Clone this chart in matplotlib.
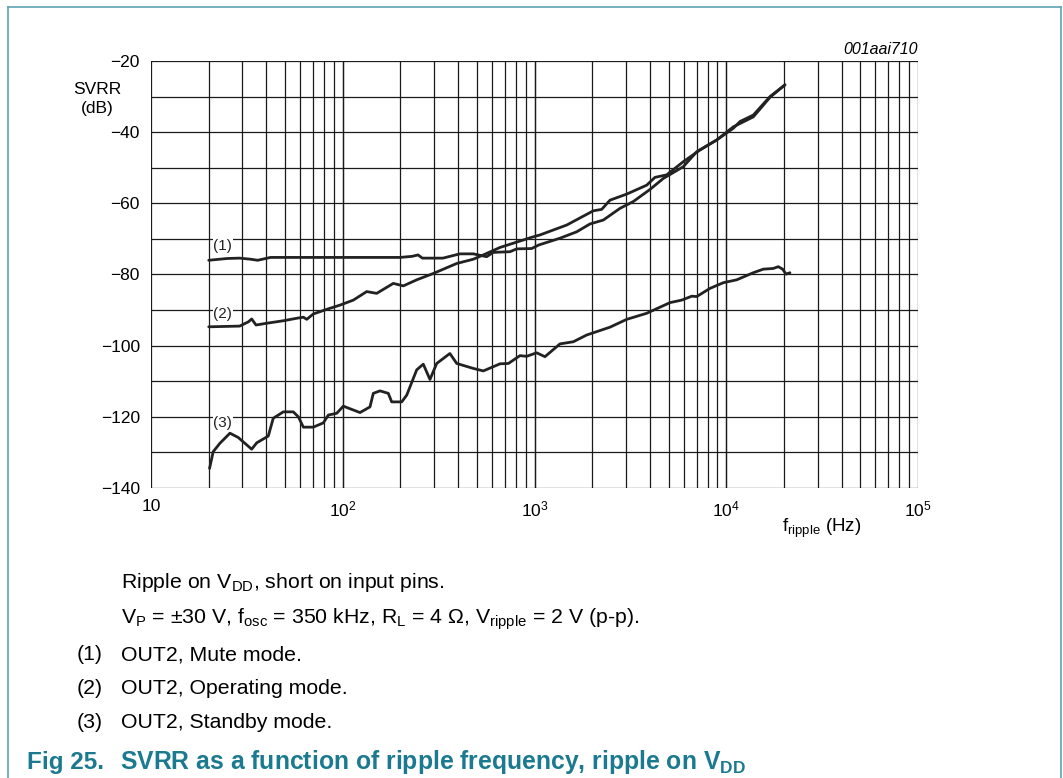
import numpy as np
import matplotlib
matplotlib.use('Agg')
import matplotlib.pyplot as plt
from matplotlib.lines import Line2D

plt.rcParams['font.family'] = ['Liberation Sans', 'DejaVu Sans']
plt.rcParams['mathtext.fontset'] = 'custom'
plt.rcParams['mathtext.rm'] = 'Liberation Sans'
plt.rcParams['mathtext.it'] = 'Liberation Sans:italic'
plt.rcParams['mathtext.bf'] = 'Liberation Sans:bold'

# (1) OUT2, Mute mode
mute_f = [20, 25, 29, 33, 36, 42, 100, 199, 230, 247, 260, 333, 408, 480, 563,
          608, 661, 745, 807, 967, 1053, 1358, 1660, 1946, 2285, 2793, 3274,
          4002, 4698, 5970, 7015, 8914, 10890, 13840, 16910, 20240]
mute_db = [-76.0, -75.5, -75.4, -75.7, -76.0, -75.2, -75.2, -75.2, -74.9, -74.5,
           -75.4, -75.4, -74.2, -74.2, -75.0, -73.8, -73.7, -73.6, -72.8, -72.7,
           -71.7, -69.8, -68.0, -65.8, -64.7, -61.4, -59.5, -56.1, -53.0, -49.7,
           -45.5, -42.2, -38.5, -35.7, -30.2, -26.7]

# (2) OUT2, Operating mode
oper_f = [20, 29, 32.2, 33.5, 35.3, 40.1, 49, 57.5, 62.3, 64.9, 70.2, 82.4, 96.8,
          113.5, 133.3, 150.3, 183.5, 207, 243, 297, 393, 480, 541, 661, 986,
          1066, 1472, 2027, 2240, 2477, 3027, 3846, 4249, 4890, 5970, 7297,
          8914, 10890, 11800, 13840, 16910, 20240]
oper_db = [-94.7, -94.5, -93.3, -92.5, -94.2, -93.7, -93.0, -92.3, -92.0, -92.6,
           -91.1, -89.8, -88.6, -87.2, -84.8, -85.3, -82.5, -83.2, -81.5, -79.7,
           -76.9, -75.7, -74.5, -72.4, -69.4, -68.9, -66.1, -62.1, -61.7, -59.1,
           -57.4, -54.9, -52.7, -52.0, -48.3, -45.0, -42.2, -38.9, -37.0, -35.2,
           -30.0, -26.7]

# (3) OUT2, Standby mode
stby_f = [20.2, 21.1, 22.9, 25.8, 28.5, 33.5, 35.6, 40.9, 43.4, 49.0, 55.2, 58.7,
          62.3, 70.2, 79.2, 84.1, 93.0, 100.7, 123, 138.7, 144.3, 156.4, 172.8,
          180, 203, 215.6, 243, 263, 285, 309, 362, 393, 480, 541, 661, 731, 840,
          910, 1026, 1134, 1358, 1594, 1872, 2477, 3027, 3846, 5090, 5858, 6605,
          7015, 8226, 9658, 11330, 13840, 15600, 17590, 18680, 19690, 20500, 21490]
stby_db = [-134.5, -129.8, -127.4, -124.6, -125.8, -129.1, -127.3, -125.4, -120.4,
           -118.6, -118.6, -120.0, -122.9, -122.9, -121.7, -119.5, -119.0, -117.0,
           -118.8, -117.2, -113.4, -112.7, -113.4, -115.8, -115.8, -113.9, -106.8,
           -105.2, -109.5, -105.0, -102.2, -105.0, -106.4, -107.1, -105.1, -105.0,
           -102.8, -103.0, -102.0, -103.1, -99.5, -98.9, -97.0, -94.8, -92.6, -90.9,
           -87.9, -87.2, -86.1, -86.2, -83.9, -82.3, -81.5, -79.5, -78.5, -78.3,
           -77.8, -78.5, -79.9, -79.5]

curve_labels = ['(1)', '(2)', '(3)']
label_pos = [(23.7, -72.0), (23.7, -91.1), (23.7, -121.7)]

x_ticks = [10, 100, 1000, 10000, 100000]
x_ticklabels = ['10', r'10$^\mathregular{2}$', r'10$^\mathregular{3}$',
                r'10$^\mathregular{4}$', r'10$^\mathregular{5}$']
y_ticks = [-20, -40, -60, -80, -100, -120, -140]

W, H = 1063, 778
fig = plt.figure(figsize=(W / 100, H / 100), dpi=100)
ax = fig.add_axes([151 / W, 1 - 488 / H, (918 - 151) / W, (488 - 61) / H])

ax.set_xscale('log')
ax.set_xlim(10, 1e5)
ax.set_ylim(-140, -20)

# grid: decades and 2..9, every 10 dB
for dec in [10, 100, 1000, 10000]:
    for m in range(1, 11):
        ax.axvline(dec * m, color='#1a1a1a', lw=0.9, zorder=1)
for v in range(-140, -19, 10):
    ax.axhline(v, color='#1a1a1a', lw=0.9, zorder=1)

for f, db in [(mute_f, mute_db), (oper_f, oper_db), (stby_f, stby_db)]:
    ax.plot(f, db, color='#222222', lw=2.0, solid_joinstyle='round',
            solid_capstyle='round', zorder=3)

for lab, (x, y) in zip(curve_labels, label_pos):
    ax.text(x, y, lab, fontsize=11, ha='center', va='center', color='#222222',
            zorder=2, bbox=dict(facecolor='white', edgecolor='none', pad=0.5))

for s in ax.spines.values():
    s.set_visible(False)
ax.tick_params(length=0, labelsize=12.5, pad=8)
ax.set_xticks(x_ticks)
ax.set_xticklabels(x_ticklabels)
ax.xaxis.set_minor_locator(matplotlib.ticker.NullLocator())
ax.set_yticks(y_ticks)
ax.set_yticklabels(['\u2212' + str(abs(v)) for v in y_ticks])

# axis titles
fig.text(97 / W, 1 - 90 / H, 'SVRR', fontsize=12.5, ha='center', va='center')
fig.text(97 / W, 1 - 108 / H, '(dB)', fontsize=12.5, ha='center', va='center')
fig.text(822 / W, 1 - 528 / H, r'f$_\mathregular{ripple}$ (Hz)', fontsize=13.5,
         ha='center', va='center')
fig.text(918 / W, 1 - 49 / H, '001aai710', fontsize=11.5, style='italic',
         ha='right', va='center')

# caption
cap_fs = 15.3
fig.text(121 / W, 1 - 582 / H, r'Ripple on V$_\mathregular{DD}$, short on input pins.',
         fontsize=cap_fs, va='center')
fig.text(121 / W, 1 - 619 / H,
         r'V$_\mathregular{P}$ = ±30 V, f$_\mathregular{osc}$ = 350 kHz, '
         r'R$_\mathregular{L}$ = 4 Ω, V$_\mathregular{ripple}$ = 2 V (p-p).',
         fontsize=cap_fs, va='center')
notes = ['OUT2, Mute mode.', 'OUT2, Operating mode.', 'OUT2, Standby mode.']
for i, (lab, txt) in enumerate(zip(curve_labels, notes)):
    y = 1 - (655 + 33.5 * i) / H
    fig.text(77 / W, y, lab, fontsize=cap_fs, va='center')
    fig.text(121 / W, y, txt, fontsize=cap_fs, va='center')

title_color = '#1b7a8f'
fig.text(27 / W, 1 - 762 / H, 'Fig 25.', fontsize=17.5, fontweight='bold',
         color=title_color, va='center')
fig.text(120 / W, 1 - 762 / H,
         r'SVRR as a function of ripple frequency, ripple on V$_\mathbf{DD}$',
         fontsize=17.8, fontweight='bold', color=title_color, va='center')

# frame
border = '#5ea3b4'
fig.add_artist(Line2D([8 / W, 8 / W], [0, 1 - 7 / H], color=border, lw=1.2))
fig.add_artist(Line2D([8 / W, 1061 / W], [1 - 7 / H, 1 - 7 / H], color=border, lw=1.2))
fig.add_artist(Line2D([1061 / W, 1061 / W], [0, 1 - 7 / H], color=border, lw=1.2))

fig.savefig('out.png', dpi=100)
